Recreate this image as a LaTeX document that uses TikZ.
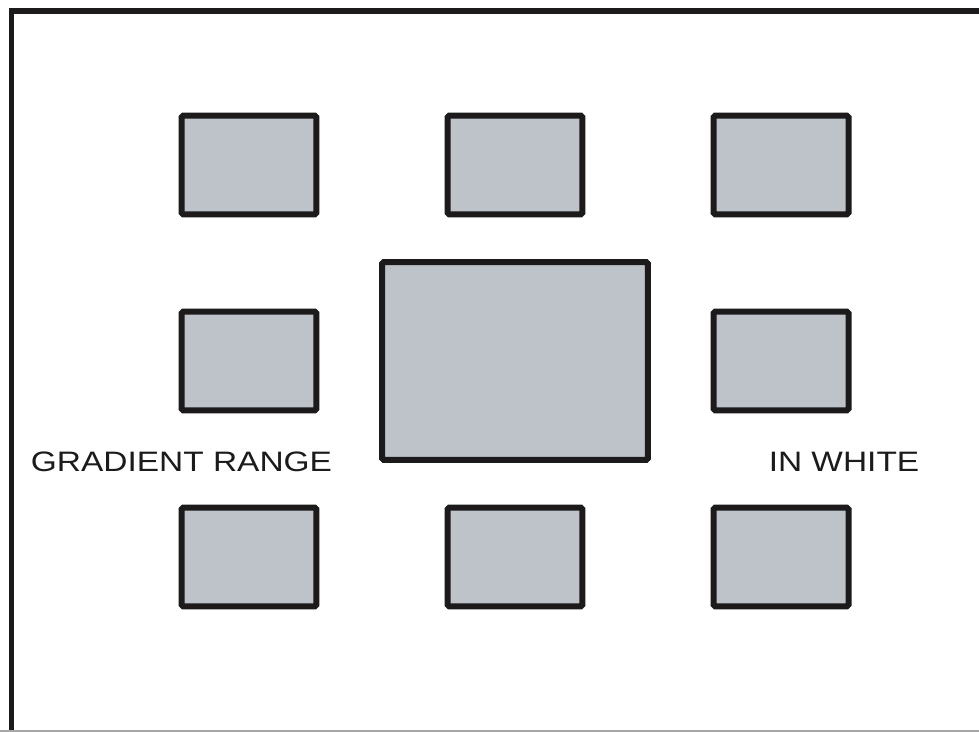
\documentclass[tikz,border=0pt]{standalone}
\usepackage{fontspec}
\newfontfamily\labelfont{Liberation Sans}[FakeStretch=1.19]
\usetikzlibrary{positioning}
\definecolor{boxgray}{RGB}{190,195,202}
\definecolor{edgeblack}{RGB}{28,26,27}

\begin{document}
\begin{tikzpicture}[
    x=0.02cm, y=-0.02cm,
    frame/.style    = {draw=edgeblack, line width=0.12cm},
    smallbox/.style = {rectangle, draw=edgeblack, line width=0.12cm, fill=boxgray,
                       rounded corners=1pt, minimum width=2.7cm, minimum height=1.98cm, inner sep=0pt},
    bigbox/.style   = {smallbox, minimum width=5.32cm, minimum height=3.96cm},
    caption/.style  = {font=\labelfont\fontsize{16}{18}\selectfont, text=edgeblack, inner sep=0pt},
]

% picture area
\useasboundingbox (0, 0) rectangle (979, 732);
\fill[white] (0, 0) rectangle (979, 732);

% frame corner
\coordinate (fbl) at (11.5, 732);
\coordinate (ftl) at (11.5, 11.5);
\coordinate (ftr) at (979, 11.5);
\draw[frame] (fbl) -- (ftl) -- (ftr);
\draw[gray!70, line width=0.6pt] (0, 731) -- (979, 731);

% top row
\node[smallbox] (tl) at (249, 165) {};
\node[smallbox] (tm) at (515, 165) {};
\node[smallbox] (tr) at (781, 165) {};

% middle row
\node[smallbox] (ml) at (249, 361) {};
\node[bigbox]   (mc) at (515, 361) {};
\node[smallbox] (mr) at (781, 361) {};

% bottom row
\node[smallbox] (bl) at (249, 557) {};
\node[smallbox] (bm) at (515, 557) {};
\node[smallbox] (br) at (781, 557) {};

% captions
\node[caption] (grad)  at (181.5, 462) {GRADIENT RANGE};
\node[caption] (white) at (844, 462) {IN WHITE};

\end{tikzpicture}
\end{document}
